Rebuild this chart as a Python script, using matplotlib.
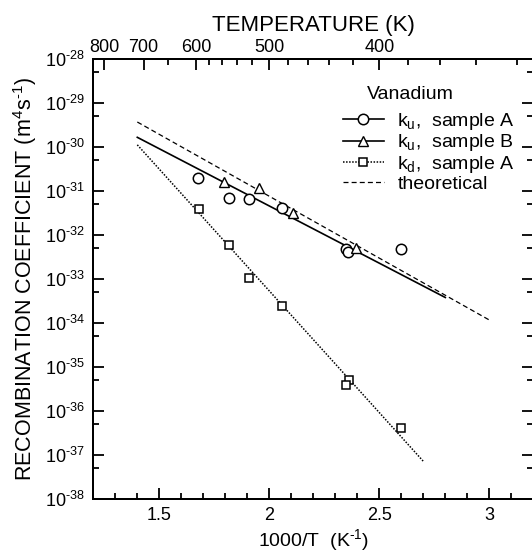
import matplotlib
matplotlib.use("Agg")
import numpy as np
import matplotlib.pyplot as plt
from matplotlib.lines import Line2D
from matplotlib.ticker import FixedLocator, FuncFormatter

plt.rcParams['font.family'] = ['Liberation Sans', 'DejaVu Sans']
plt.rcParams['mathtext.fontset'] = 'custom'
plt.rcParams['mathtext.rm'] = 'Liberation Sans'
plt.rcParams['mathtext.it'] = 'Liberation Sans:italic'

# ku, sample A (circles)
ku_a_x = [1.677, 1.818, 1.908, 2.058, 2.347, 2.359, 2.597]
ku_a_y = [1.95e-31, 7.1e-32, 6.6e-32, 4.1e-32, 4.9e-33, 4.1e-33, 4.9e-33]
# ku, sample B (triangles)
ku_b_x = [1.794, 1.955, 2.106, 2.394]
ku_b_y = [1.6e-31, 1.15e-31, 3.2e-32, 5.0e-33]
# kd, sample A (squares)
kd_a_x = [1.680, 1.818, 1.908, 2.059, 2.362, 2.349, 2.597]
kd_a_y = [3.9e-32, 5.9e-33, 1.07e-33, 2.45e-34, 5.0e-36, 3.9e-36, 4.2e-37]

# fitted / theoretical lines (end points)
ku_fit_x = [1.4, 2.8]
ku_fit_y = [1.66e-30, 3.8e-34]
kd_fit_x = [1.4, 2.7]
kd_fit_y = [1.12e-30, 7.2e-38]
theo_x = [1.4, 3.0]
theo_y = [3.7e-30, 1.17e-34]

temp_major = [800, 700, 600, 500, 400]
temp_minor = [650, 580, 560, 540, 520, 480, 460, 440, 420, 380, 360, 340, 320]

HY = '\u2010'  # short hyphen like the original superscripts

fig = plt.figure(figsize=(5.32, 5.54), dpi=100)
ax = fig.add_axes([93.3 / 532, 55 / 554, 440 / 532, 440 / 554])

ax.plot(ku_fit_x, ku_fit_y, color='k', lw=1.2, ls='-')
ax.plot(kd_fit_x, kd_fit_y, color='k', lw=1.1, ls=(0, (1, 1)))
ax.plot(theo_x, theo_y, color='k', lw=0.9, ls=(0, (4, 2.5)))

ax.plot(ku_a_x, ku_a_y, 'o', ms=7.5, mfc='white', mec='k', mew=1.1, ls='none')
ax.plot(ku_b_x, ku_b_y, '^', ms=6.5, mfc='white', mec='k', mew=1.0, ls='none')
ax.plot(kd_a_x, kd_a_y, 's', ms=6.2, mfc='white', mec='k', mew=1.1, ls='none')

ax.set_yscale('log')
ax.set_xlim(1.2, 3.2)
ax.set_ylim(1e-38, 1e-28)

ax.xaxis.set_major_locator(FixedLocator([1.5, 2.0, 2.5, 3.0]))
ax.xaxis.set_minor_locator(FixedLocator(np.arange(1.3, 3.2, 0.1)))
ax.xaxis.set_major_formatter(FuncFormatter(lambda v, _: '{:g}'.format(v)))
ax.yaxis.set_major_locator(FixedLocator([10.0 ** k for k in range(-38, -27)]))
ax.yaxis.set_minor_locator(FixedLocator([5 * 10.0 ** k for k in range(-38, -28)]))
ax.yaxis.set_major_formatter(FuncFormatter(
    lambda v, _: r'$\mathregular{10^{%s%d}}$' % (HY, abs(round(np.log10(v))))))
ax.yaxis.set_minor_formatter(FuncFormatter(lambda v, _: ''))

ax.tick_params(which='both', direction='in', top=False, right=True, width=1.3)
ax.tick_params(which='major', length=8, labelsize=13, pad=6)
ax.tick_params(which='minor', length=4)
for s in ax.spines.values():
    s.set_linewidth(1.4)

ax.set_xlabel(r'1000/T  (K$^{\mathregular{%s1}}$)' % HY, fontsize=14, labelpad=2)
ax.set_ylabel(r'RECOMBINATION COEFFICIENT (m$^{\mathregular{4}}$s$^{\mathregular{%s1}}$)' % HY,
              fontsize=15.5, labelpad=4)

top = ax.twiny()
top.set_xlim(ax.get_xlim())
top.xaxis.set_major_locator(FixedLocator([1000.0 / t for t in temp_major]))
top.xaxis.set_minor_locator(FixedLocator([1000.0 / t for t in temp_minor]))
top.set_xticklabels([str(t) for t in temp_major])
top.tick_params(which='both', direction='in', width=1.3)
top.tick_params(which='major', length=8, labelsize=13, pad=2)
top.tick_params(which='minor', length=4)
top.set_xlabel('TEMPERATURE (K)', fontsize=16, labelpad=6)
for s in top.spines.values():
    s.set_linewidth(1.4)

handles = [
    Line2D([], [], color='k', lw=1.2, ls='-', marker='o', ms=7.5, mfc='white', mew=1.1),
    Line2D([], [], color='k', lw=1.2, ls='-', marker='^', ms=6.5, mfc='white', mew=1.0),
    Line2D([], [], color='k', lw=1.1, ls=(0, (1, 1)), marker='s', ms=6.2, mfc='white', mew=1.1),
    Line2D([], [], color='k', lw=0.9, ls=(0, (4, 2.5))),
]
labels = [r'k$_{\mathregular{u}}$,  sample A', r'k$_{\mathregular{u}}$,  sample B',
          r'k$_{\mathregular{d}}$,  sample A', 'theoretical']
ax.text(0.72, 0.92, 'Vanadium', transform=ax.transAxes, ha='center', va='center', fontsize=14)
leg = ax.legend(handles, labels, loc='upper right', bbox_to_anchor=(0.958, 0.882),
                frameon=False, fontsize=14, handlelength=2.1, handletextpad=0.7,
                labelspacing=0.02, borderaxespad=0, borderpad=0)

fig.savefig('out.png', dpi=100)
